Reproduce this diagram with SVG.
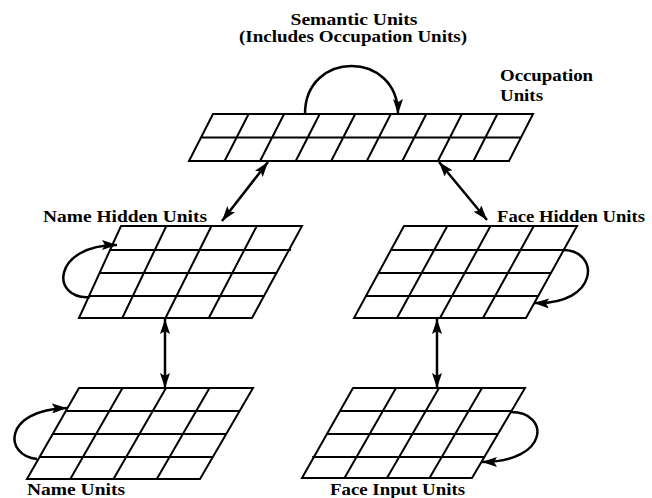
<svg xmlns="http://www.w3.org/2000/svg" width="652" height="498" viewBox="0 0 652 498">
<style>
.g{fill:none;stroke:#000;stroke-width:2;stroke-linejoin:miter}
.c{fill:none;stroke:#000;stroke-width:2.5}
.t{font-family:"Liberation Serif","Times New Roman",serif;font-weight:bold;font-size:17px;fill:#000}
.s{font-size:16px}
</style>
<defs>
<marker id="ah" viewBox="0 0 15 10" refX="15" refY="5" markerWidth="15" markerHeight="10" markerUnits="userSpaceOnUse" orient="auto-start-reverse">
<path d="M0,0 L15,5 L0,10 L3,5 Z" fill="#000"/>
</marker>
</defs>
<rect width="652" height="498" fill="#fff"/>

<g id="semantic-units">
<path class="g" d="M213,114 H533 L509,161 H189 Z M201,137.5 H521
M248.6,114 L224.6,161 M284.1,114 L260.1,161 M319.7,114 L295.7,161 M355.2,114 L331.2,161 M390.8,114 L366.8,161 M426.3,114 L402.3,161 M461.9,114 L437.9,161 M497.4,114 L473.4,161"/>
<text class="t s" x="354" y="25" text-anchor="middle" textLength="127" lengthAdjust="spacingAndGlyphs">Semantic Units</text>
<text class="t s" x="353" y="42" text-anchor="middle" textLength="228" lengthAdjust="spacingAndGlyphs">(Includes Occupation Units)</text>
<text class="t" x="500" y="81" textLength="93" lengthAdjust="spacingAndGlyphs">Occupation</text>
<text class="t" x="500" y="101" textLength="43" lengthAdjust="spacingAndGlyphs">Units</text>
</g>

<g id="name-hidden-units">
<path class="g" d="M121,226 H302 L252,318 H79 Z
M110.1,250 H291 M99.4,273 H277.5 M89.1,296 H264.5
M166.3,226 L122.3,318 M211.5,226 L165.5,318 M256.8,226 L208.8,318"/>
<text class="t" x="43" y="222" textLength="164" lengthAdjust="spacingAndGlyphs">Name Hidden Units</text>
</g>

<g id="face-hidden-units">
<path class="g" d="M404,226 H577 L526,318 H354 Z
M391,250 H563.7 M378.5,273 H551 M366,296 H538.2
M447.3,226 L397,318 M490.5,226 L440,318 M533.8,226 L483,318"/>
<text class="t" x="497" y="222" textLength="148" lengthAdjust="spacingAndGlyphs">Face Hidden Units</text>
</g>

<g id="name-units">
<path class="g" d="M79,388 H253 L200,479 H27 Z
M65.9,411 H239.6 M52.7,434 H226.2 M39.6,457 H212.8
M122.5,388 L70.3,479 M166,388 L113.5,479 M209.5,388 L156.8,479"/>
<text class="t" x="27" y="495" textLength="98" lengthAdjust="spacingAndGlyphs">Name Units</text>
</g>

<g id="face-input-units">
<path class="g" d="M353,388 H525 L472,478 H302 Z
M339.4,411 H511.5 M325.9,434 H497.9 M312.2,457 H484.4
M396,388 L344.5,478 M439,388 L387,478 M482,388 L429.5,478"/>
<text class="t" x="330" y="495" textLength="135" lengthAdjust="spacingAndGlyphs">Face Input Units</text>
</g>

<g id="connectors">
<path class="c" d="M305,114 C305,50 398,50 398,114" marker-end="url(#ah)"/>
<path class="c" d="M268,162 L222,221" marker-start="url(#ah)" marker-end="url(#ah)"/>
<path class="c" d="M439,162 L487,220" marker-start="url(#ah)" marker-end="url(#ah)"/>
<path class="c" d="M90,297 C50,300 52,245 117,245" marker-end="url(#ah)"/>
<path class="c" d="M563,250 C600,250 600,305 534,303" marker-end="url(#ah)"/>
<path class="c" d="M165,319 L165,388" marker-start="url(#ah)" marker-end="url(#ah)"/>
<path class="c" d="M437,319 L437,388" marker-start="url(#ah)" marker-end="url(#ah)"/>
<path class="c" d="M37,459 C4,456 2,410 67,408" marker-end="url(#ah)"/>
<path class="c" d="M511,412 C550,412 550,462 482,462" marker-end="url(#ah)"/>
</g>
</svg>
